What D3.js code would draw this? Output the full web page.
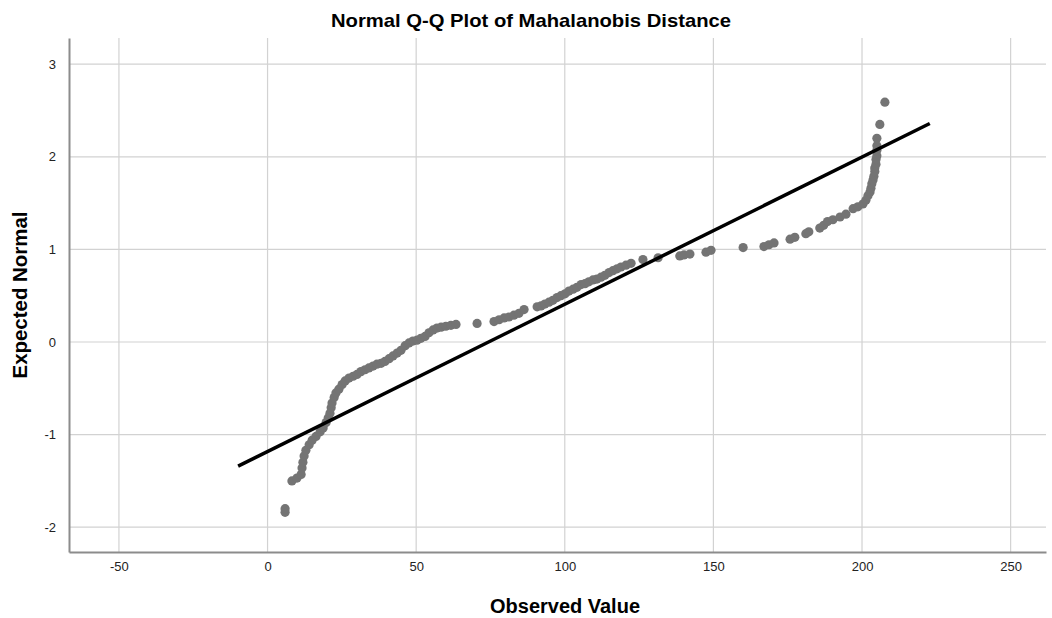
<!doctype html>
<html>
<head>
<meta charset="UTF-8" />
<script src="https://d3js.org/d3.v7.min.js"></script>
<style>
  body { margin: 0; background: #fff; }
  svg { display: block; font-family: Arial, "Liberation Sans", sans-serif; }
</style>
</head>
<body>
<svg id="chart" width="1052" height="618"></svg>
<script>
// observed Mahalanobis distance vs expected normal quantile
const observed = [
  5.9, 5.9, 8.2, 9.9, 11.3, 11.6, 11.9, 12.3, 12.9, 14.0,
  15.0, 16.3, 17.7, 18.7, 19.7, 20.4, 21.0, 21.4, 21.7, 22.4,
  23.0, 24.0, 25.1, 26.1, 27.4, 28.8, 30.1, 31.4, 32.8, 34.1,
  35.5, 36.8, 38.2, 39.5, 40.9, 42.2, 43.6, 44.9, 46.3, 47.6,
  48.9, 50.3, 51.6, 53.0, 54.3, 55.7, 57.0, 58.4, 60.0, 61.7,
  63.4, 70.5, 76.2, 77.9, 79.6, 81.2, 82.9, 84.6, 86.3, 90.7,
  92.0, 93.3, 94.7, 96.0, 97.4, 98.7, 100.1, 101.4, 102.8, 104.1,
  105.5, 106.8, 108.1, 109.5, 110.8, 112.2, 113.5, 114.9, 116.2, 117.6,
  118.9, 120.6, 122.3, 126.3, 131.4, 138.7, 140.1, 142.1, 147.5, 149.2,
  160.0, 167.0, 168.7, 170.4, 175.8, 177.4, 181.1, 182.1, 185.8, 187.1,
  188.4, 190.2, 192.6, 194.6, 197.0, 198.6, 200.3, 201.3, 202.0, 202.7,
  203.0, 203.3, 203.7, 204.0, 204.3, 204.3, 204.7, 204.7, 205.0, 205.0,
  205.0, 205.0, 206.0, 207.7
];
const expected = [
  -1.84, -1.80, -1.50, -1.47, -1.43, -1.36, -1.30, -1.23, -1.17, -1.11,
  -1.06, -1.02, -0.97, -0.93, -0.87, -0.82, -0.77, -0.71, -0.66, -0.60,
  -0.55, -0.51, -0.46, -0.42, -0.39, -0.37, -0.35, -0.32, -0.30, -0.28,
  -0.26, -0.24, -0.23, -0.21, -0.18, -0.15, -0.12, -0.09, -0.04, -0.01,
  0.01, 0.02, 0.04, 0.06, 0.10, 0.13, 0.15, 0.16, 0.17, 0.18,
  0.19, 0.20, 0.22, 0.24, 0.26, 0.27, 0.29, 0.31, 0.35, 0.38,
  0.39, 0.41, 0.43, 0.45, 0.48, 0.50, 0.52, 0.55, 0.57, 0.59,
  0.62, 0.63, 0.65, 0.67, 0.68, 0.70, 0.72, 0.75, 0.77, 0.79,
  0.81, 0.83, 0.85, 0.89, 0.91, 0.93, 0.94, 0.95, 0.97, 0.99,
  1.02, 1.03, 1.05, 1.07, 1.11, 1.13, 1.17, 1.19, 1.23, 1.26,
  1.30, 1.32, 1.35, 1.38, 1.44, 1.46, 1.49, 1.53, 1.58, 1.62,
  1.66, 1.71, 1.75, 1.79, 1.84, 1.88, 1.92, 1.97, 2.01, 2.07,
  2.12, 2.20, 2.35, 2.59
];

// reference line ends
const lineObs = [-9.9, 222.8];
const lineExp = [-1.34, 2.36];

const xTicks = [-50, 0, 50, 100, 150, 200, 250];
const yTicks = [-2, -1, 0, 1, 2, 3];

const margin = { top: 38, right: 6, bottom: 66, left: 69 };
const W = 1052, H = 618;
const plotW = W - margin.left - margin.right;
const plotH = H - margin.top - margin.bottom;

const svg = d3.select("#chart");

const x = d3.scaleLinear().domain([-66.8, 261.9]).range([0, plotW]);
const y = d3.scaleLinear().domain([-2.268, 3.283]).range([plotH, 0]);

const g = svg.append("g").attr("transform", `translate(${margin.left},${margin.top})`);

// gridlines
g.append("g").selectAll("line").data(xTicks).join("line")
  .attr("x1", d => x(d)).attr("x2", d => x(d))
  .attr("y1", 0).attr("y2", plotH)
  .attr("stroke", "#d2d2d2").attr("stroke-width", 1.2);
g.append("g").selectAll("line").data(yTicks).join("line")
  .attr("x1", 0).attr("x2", plotW)
  .attr("y1", d => y(d)).attr("y2", d => y(d))
  .attr("stroke", "#d2d2d2").attr("stroke-width", 1.2);

// axes, plain hyphen for negatives like the original
const fmt = d => String(d);
const xAxis = g.append("g").attr("transform", `translate(0,${plotH})`)
  .call(d3.axisBottom(x).tickValues(xTicks).tickFormat(fmt).tickSize(0).tickPadding(10));
const yAxis = g.append("g")
  .call(d3.axisLeft(y).tickValues(yTicks).tickFormat(fmt).tickSize(0).tickPadding(13));
[xAxis, yAxis].forEach(a => {
  a.select(".domain").attr("stroke", "#8c8c8c").attr("stroke-width", 2);
  a.selectAll("text").attr("font-size", 13).attr("fill", "#222")
    .attr("font-family", "Arial, 'Liberation Sans', sans-serif");
});

// points
const pts = observed.map((v, i) => ({ o: v, e: expected[i] }));
g.append("g").selectAll("circle").data(pts).join("circle")
  .attr("cx", d => x(d.o)).attr("cy", d => y(d.e))
  .attr("r", 4.6).attr("fill", "#747474");

// reference line
g.append("line")
  .attr("x1", x(lineObs[0])).attr("y1", y(lineExp[0]))
  .attr("x2", x(lineObs[1])).attr("y2", y(lineExp[1]))
  .attr("stroke", "#000").attr("stroke-width", 3.5);

// titles
svg.append("text").attr("x", 531).attr("y", 27)
  .attr("text-anchor", "middle").attr("font-size", 19).attr("font-weight", "bold")
  .attr("textLength", 400).attr("lengthAdjust", "spacingAndGlyphs")
  .text("Normal Q-Q Plot of Mahalanobis Distance");
svg.append("text").attr("x", 565).attr("y", 613)
  .attr("text-anchor", "middle").attr("font-size", 20).attr("font-weight", "bold")
  .attr("textLength", 150).attr("lengthAdjust", "spacingAndGlyphs")
  .text("Observed Value");
svg.append("text")
  .attr("transform", `translate(27,${margin.top + plotH / 2}) rotate(-90)`)
  .attr("text-anchor", "middle").attr("font-size", 20).attr("font-weight", "bold")
  .attr("textLength", 167).attr("lengthAdjust", "spacingAndGlyphs")
  .text("Expected Normal");
</script>
</body>
</html>
